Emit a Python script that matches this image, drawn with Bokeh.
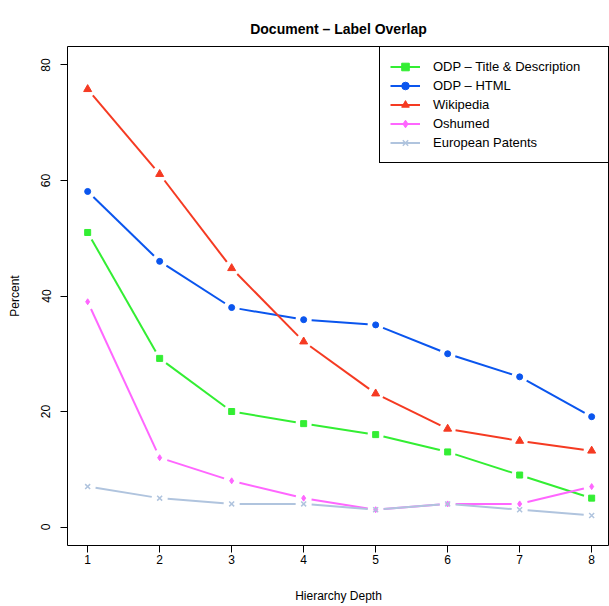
import math
from bokeh.plotting import figure
from bokeh.models import Range1d, Legend, LegendItem, FixedTicker
from bokeh.embed import file_html
from bokeh.resources import INLINE

depth = [1, 2, 3, 4, 5, 6, 7, 8]
odp_title_desc = [51, 29.2, 20, 17.9, 16, 13, 9, 5]
odp_html = [58.1, 46, 38, 35.9, 35, 30, 26, 19.1]
wikipedia = [75.8, 61.1, 44.8, 32.1, 23.1, 17, 14.9, 13.2]
oshumed = [39, 12, 8, 5, 3, 4, 4, 7]
european_patents = [7, 5, 4, 4, 3, 4, 3, 2]

y_ticks = [0, 20, 40, 60, 80]

W, H = 609, 606
ML, MR, MT, MB = 67, 0, 46, 61
FW = W - ML - MR
FH = H - MT - MB
X0 = 0.72
X1 = X0 + FW / 72.0
Y0, Y1 = -3.2, 83.2
sx = FW / (X1 - X0)
sy = FH / (Y1 - Y0)
GAP = 8.0

FONT = "Liberation Sans"

p = figure(width=W, height=H, output_backend="svg", toolbar_location=None,
           x_range=Range1d(X0, X1), y_range=Range1d(Y0, Y1),
           min_border_left=ML, min_border_right=MR, min_border_top=MT, min_border_bottom=MB,
           title="Document \u2013 Label Overlap")
p.title.align = "center"
p.title.text_font = FONT
p.title.text_font_size = "14px"
p.title.text_font_style = "bold"
p.title.text_color = "black"
p.title.standoff = 20
p.outline_line_color = "black"
p.outline_line_width = 1
p.outline_line_alpha = 1
p.xgrid.visible = False
p.ygrid.visible = False

for ax in (p.xaxis[0], p.yaxis[0]):
    ax.axis_line_color = None
    ax.major_tick_out = 7
    ax.major_tick_in = 0
    ax.minor_tick_line_color = None
    ax.major_label_text_font = FONT
    ax.major_label_text_font_size = "12px"
    ax.major_label_text_color = "black"
    ax.axis_label_text_font = FONT
    ax.axis_label_text_font_size = "12px"
    ax.axis_label_text_font_style = "normal"
    ax.axis_label_text_color = "black"
    ax.major_tick_line_color = "black"

p.xaxis.ticker = FixedTicker(ticks=depth)
p.yaxis.ticker = FixedTicker(ticks=y_ticks)
p.xaxis.axis_label = "Hierarchy Depth"
p.yaxis.axis_label = "Percent"
p.yaxis.major_label_orientation = "vertical"
p.xaxis.major_label_standoff = 2
p.xaxis.axis_label_standoff = 22
p.yaxis.major_label_standoff = 10
p.yaxis.axis_label_standoff = 17


def gapped(xs, ys):
    x0s, y0s, x1s, y1s = [], [], [], []
    for i in range(len(xs) - 1):
        dx, dy = xs[i + 1] - xs[i], ys[i + 1] - ys[i]
        L = math.hypot(dx * sx, dy * sy)
        if L <= 2 * GAP:
            continue
        t = GAP / L
        x0s.append(xs[i] + t * dx)
        y0s.append(ys[i] + t * dy)
        x1s.append(xs[i + 1] - t * dx)
        y1s.append(ys[i + 1] - t * dy)
    return x0s, y0s, x1s, y1s


series = [
    ("ODP \u2013 Title & Description", odp_title_desc, "#33ee33", "square", 6, 1),
    ("ODP \u2013 HTML", odp_html, "#0a55ee", "circle", 6, 1),
    ("Wikipedia", wikipedia, "#f53a22", "triangle", 8, 1),
    ("Oshumed", oshumed, "#ff66ff", "diamond", 6, 1),
    ("European Patents", european_patents, "#b0c4de", "x", 7, 1.5),
]

items = []
for name, vals, col, mk, sz, lw in series:
    a, b, c, d = gapped(depth, vals)
    seg = p.segment(x0=a, y0=b, x1=c, y1=d, line_color=col, line_width=2)
    sc = p.scatter(depth, vals, marker=mk, size=sz, fill_color=col, line_color=col, line_width=lw)
    items.append(LegendItem(label=name, renderers=[seg, sc]))

legend = Legend(items=items, location="top_right")
legend.margin = 0
legend.padding = 10
legend.spacing = 0
legend.glyph_width = 30
legend.glyph_height = 19
legend.label_height = 19
legend.label_width = 165
legend.label_standoff = 13
legend.label_text_font = FONT
legend.label_text_font_size = "13px"
legend.label_text_color = "black"
legend.border_line_color = "black"
legend.border_line_width = 1
legend.border_line_alpha = 1
legend.background_fill_alpha = 1
p.add_layout(legend, "center")

open("out.html", "w").write(file_html(p, INLINE))
